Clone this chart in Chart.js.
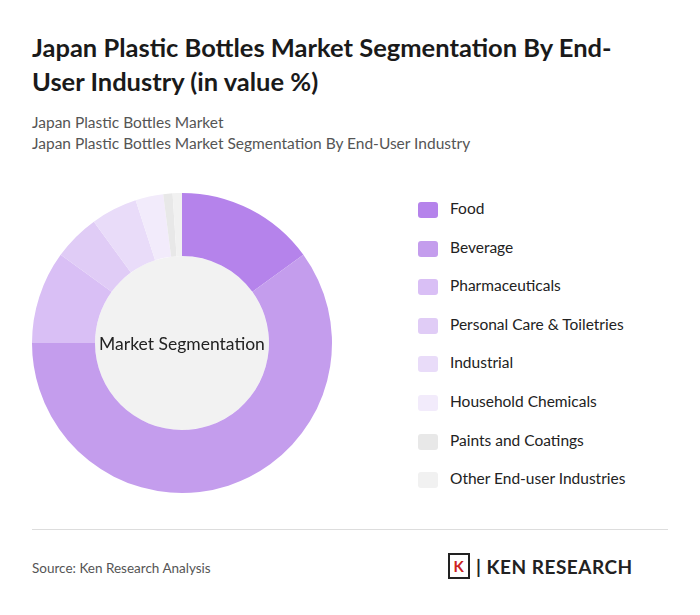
<!DOCTYPE html>
<html><head><meta charset="utf-8">
<script src="https://cdn.jsdelivr.net/npm/chart.js@4"></script>
<style>
body{margin:0;width:700px;height:615px;background:#fff;font-family:Lato,sans-serif;position:relative;overflow:hidden}
h1{position:absolute;left:32px;top:30px;margin:0;font-size:25.5px;line-height:34px;font-weight:700;color:#1a1a1a;width:615px}
.sub{position:absolute;left:32px;color:#555;font-size:15.5px}
#wrap{position:absolute;left:30px;top:191px;width:304px;height:304px}
#legend{position:absolute;left:418px;top:199px}
.li{height:38.6px;display:flex;align-items:flex-start;font-size:15.5px;color:#222}
.sw{width:20px;height:16px;border-radius:3px;margin-right:12px;margin-top:3px}
.line{position:absolute;left:32px;top:529px;width:636px;height:1px;background:#ddd}
.src{position:absolute;left:32px;top:560px;font-size:13.5px;color:#555}
.logo{position:absolute;left:448px;top:553px;font-size:19px;font-weight:700;color:#222;letter-spacing:0.5px;display:flex;align-items:center}
.k{width:18px;height:22px;border:2.5px solid #222;margin-right:6px;font-size:15px;display:flex;align-items:center;justify-content:center;color:#c22}
</style></head><body>
<h1>Japan Plastic Bottles Market Segmentation By End-User Industry (in value %)</h1>
<div class="sub" style="top:113px">Japan Plastic Bottles Market</div>
<div class="sub" style="top:134px">Japan Plastic Bottles Market Segmentation By End-User Industry</div>
<div id="wrap"><canvas id="c"></canvas></div>
<div id="legend"></div>
<div class="line"></div>
<div class="src">Source: Ken Research Analysis</div>
<div class="logo"><div class="k">K</div>| KEN RESEARCH</div>
<script>
const categories=["Food","Beverage","Pharmaceuticals","Personal Care & Toiletries","Industrial","Household Chemicals","Paints and Coatings","Other End-user Industries"];
const values=[15,60,10,5,5,3,1,1];
const colors=["#b583eb","#c49ded","#d9bff5","#e0ccf6","#e9dcf9","#f2ebfb","#e8e8e8","#f1f1f1"];
const lg=document.getElementById('legend');
categories.forEach((c,i)=>{lg.innerHTML+=`<div class="li"><div class="sw" style="background:${colors[i]}"></div>${c}</div>`});
const center={id:'center',beforeDatasetsDraw(ch){const m=ch.getDatasetMeta(0).data[0];const ctx=ch.ctx;ctx.save();ctx.beginPath();ctx.arc(m.x,m.y,m.innerRadius,0,Math.PI*2);ctx.fillStyle='#f2f2f2';ctx.fill();ctx.restore();},
afterDatasetsDraw(ch){const m=ch.getDatasetMeta(0).data[0];const ctx=ch.ctx;ctx.save();ctx.font='17.5px Lato';ctx.fillStyle='#222';ctx.textAlign='center';ctx.textBaseline='middle';ctx.fillText('Market Segmentation',m.x,m.y+1);ctx.restore();}};
new Chart(document.getElementById('c'),{type:'doughnut',data:{labels:categories,datasets:[{data:values,backgroundColor:colors,borderWidth:0}]},
options:{responsive:true,maintainAspectRatio:false,animation:false,cutout:'58%',layout:{padding:2},plugins:{legend:{display:false},tooltip:{enabled:false}}},plugins:[center]});
</script></body></html>
